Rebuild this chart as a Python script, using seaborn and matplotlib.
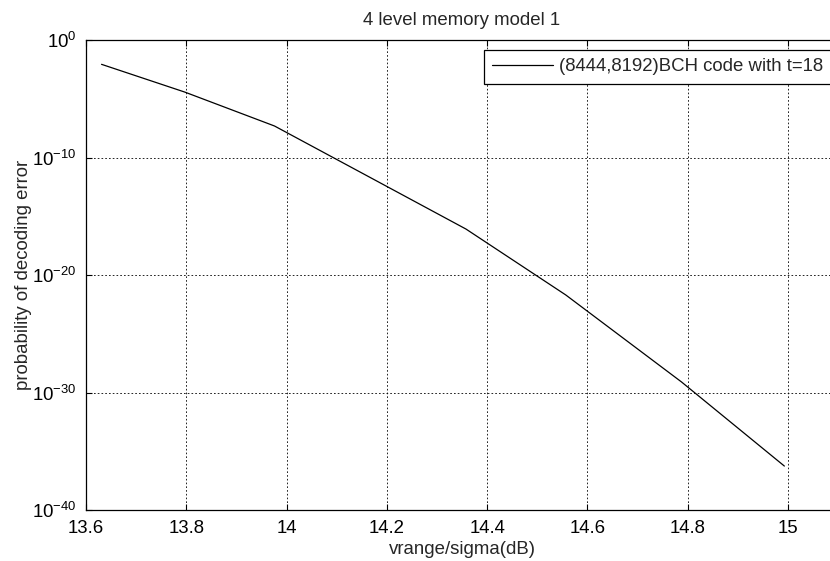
import numpy as np
import pandas as pd
import seaborn as sns
import matplotlib.pyplot as plt
from matplotlib.ticker import FixedLocator, NullLocator, LogFormatterSciNotation

# values
vrange_db = [13.631, 13.797, 13.976, 14.165, 14.358, 14.557, 14.788, 14.993]
p_err = [8.5e-3, 3.7e-5, 4.8e-8, 2.2e-12, 8.1e-17, 2.0e-22, 7.8e-30, 5.5e-37]
series_name = "(8444,8192)BCH code with t=18"
ytick_vals = [1e0, 1e-10, 1e-20, 1e-30, 1e-40]
xtick_vals = [13.6, 13.8, 14.0, 14.2, 14.4, 14.6, 14.8, 15.0]
xtick_text = ["13.6", "13.8", "14", "14.2", "14.4", "14.6", "14.8", "15"]

df = pd.DataFrame({"x": vrange_db, "y": p_err})

sns.set_theme(style="ticks")
plt.rcParams["font.family"] = ["Liberation Sans", "DejaVu Sans"]
plt.rcParams["mathtext.fontset"] = "custom"
plt.rcParams["mathtext.rm"] = "Liberation Sans"
plt.rcParams["mathtext.it"] = "Liberation Sans"
fs = 13.4

W, H = 830, 561
fig = plt.figure(figsize=(W / 100, H / 100), dpi=100)
ax = fig.add_axes([86 / W, (H - 510) / H, (838 - 86) / W, (510 - 40) / H])
ax.set_yscale("log")

sns.lineplot(data=df, x="x", y="y", ax=ax, color="black", linewidth=0.9,
             label=series_name, legend=False, sort=False)

ax.set_xlim(13.6, 15.1)
ax.set_ylim(1e-40, 1e0)
ax.xaxis.set_major_locator(FixedLocator(xtick_vals))
ax.set_xticklabels(xtick_text)
ax.yaxis.set_major_locator(FixedLocator(ytick_vals))
ax.yaxis.set_major_formatter(LogFormatterSciNotation())
ax.yaxis.set_minor_locator(NullLocator())
ax.xaxis.set_minor_locator(NullLocator())

ax.grid(True, color="black", linestyle=(0, (2, 2.5)), linewidth=0.6)
for s in ax.spines.values():
    s.set_linewidth(0.9)
    s.set_color("black")
# right edge of the axes lies past the picture's edge
ax.spines["right"].set_visible(False)
ax.tick_params(direction="in", length=4.5, width=0.8, top=True, right=False,
               labelsize=fs, colors="black", pad=7)

ax.set_title("4 level memory model 1", fontsize=fs, pad=11)
ax.set_xlabel("vrange/sigma(dB)", fontsize=fs, labelpad=3)
ax.set_ylabel("probability of decoding error", fontsize=fs, labelpad=0)

h, l = ax.get_legend_handles_labels()
leg = fig.legend(h, l, loc="upper left", bbox_to_anchor=(484 / W, 1 - 50 / H),
                 fancybox=False, edgecolor="black", framealpha=1, fontsize=fs,
                 handlelength=3.25, handletextpad=0.32, borderpad=0.45,
                 borderaxespad=0)
leg.get_frame().set_linewidth(0.9)

fig.savefig("out.png", dpi=100)
